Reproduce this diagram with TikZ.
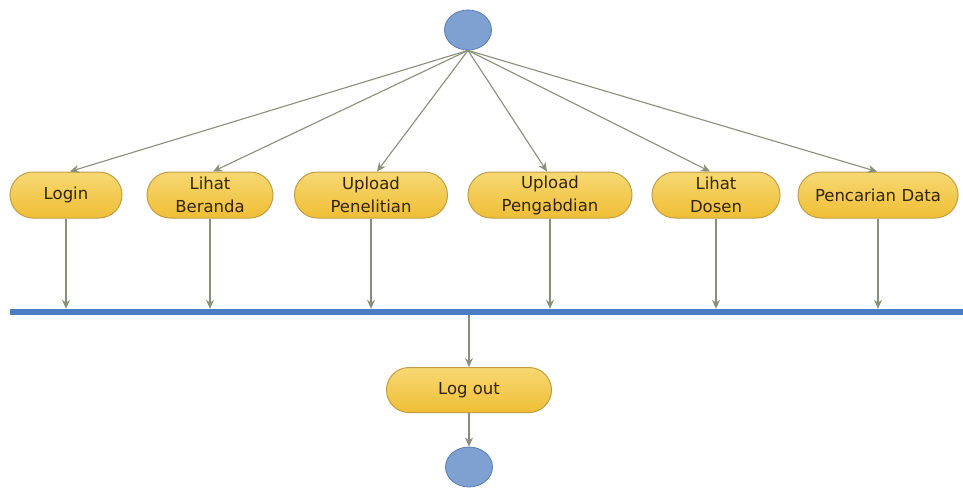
\documentclass[tikz,border=0pt]{standalone}
\usepackage{fontspec}
\setmainfont{DejaVu Sans}
\usetikzlibrary{arrows.meta,shapes.geometric,shapes.misc}
\definecolor{actfill}{HTML}{EFBE35}
\definecolor{acttop}{HTML}{F7D872}
\definecolor{actdraw}{HTML}{C29D45}
\definecolor{conn}{HTML}{888E78}
\definecolor{barblue}{HTML}{4A7EC2}
\definecolor{dotfill}{HTML}{7FA1D2}
\definecolor{dotdraw}{HTML}{5A7DB0}
\definecolor{txt}{HTML}{33240C}
\tikzset{
  act/.style={draw=actdraw, line width=1pt, rounded rectangle, top color=acttop, bottom color=actfill,
    minimum height=46pt, inner sep=0pt, align=center, text=txt,
    font=\fontsize{16.5}{23}\selectfont},
  dot/.style={draw=dotdraw, fill=dotfill, ellipse, minimum width=47pt, minimum height=40pt, inner sep=0pt, line width=0.8pt},
  conn/.style={draw=conn, line width=1.1pt, -{Stealth[length=9pt,width=8pt]}},
  line/.style={draw=conn, line width=1.1pt},
}
\begin{document}
\begin{tikzpicture}[x=1pt,y=-1pt]
\useasboundingbox (0,0) rectangle (963,487);
\node[dot] (start) at (468,30) {};
\node[act, minimum width=112pt] (login) at (66,195) {Login};
\node[act, minimum width=126pt] (beranda) at (210,195) {Lihat\\Beranda};
\node[act, minimum width=153pt] (penelitian) at (371,195) {Upload\\Penelitian};
\node[act, minimum width=164pt] (pengabdian) at (550,195) {Upload\\Pengabdian};
\node[act, minimum width=128pt] (dosen) at (716,195) {Lihat\\Dosen};
\node[act, minimum width=160pt, text width=150pt] (cari) at (878,195) {Pencarian Data};
\node[draw=none, fill=barblue, minimum width=953pt, minimum height=6pt, inner sep=0pt] (bar) at (486.5,312) {};
\node[act, minimum width=165pt, minimum height=45pt] (logout) at (469,390) {Log out};
\node[dot] (end) at (469,467) {};
\foreach \n/\dx in {login/4, beranda/3, penelitian/6, pengabdian/-3, dosen/-6, cari/-1}{
  \draw[conn] (start.south) -- ([xshift=\dx pt]\n.north);
  \draw[conn] (\n.south) -- (\n.south |- bar.north);
}
\draw[line] (bar.south -| logout.north) -- ([yshift=-15pt]bar.south -| logout.north);
\draw[conn] ([yshift=-15pt]bar.south -| logout.north) -- (logout.north);
\draw[conn] (logout.south) -- (end.north);
\end{tikzpicture}
\end{document}
